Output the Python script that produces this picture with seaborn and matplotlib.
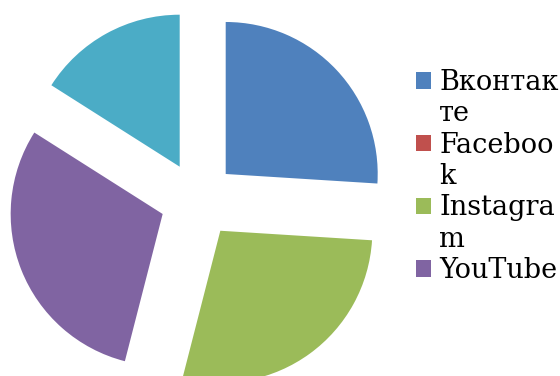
import matplotlib
matplotlib.use("Agg")
import matplotlib.pyplot as plt
from matplotlib.patches import Patch
import seaborn as sns

# ---- data ----
categories = ["Вконтакте", "Facebook", "Instagram", "YouTube", "Другое"]
values = [26, 0, 28, 30, 16]
legend_lines = [["Вконтак", "те"], ["Faceboo", "k"], ["Instagra", "m"], ["YouTube"]]
colors = ["#4F81BD", "#C0504D", "#9BBB59", "#8064A2", "#4BACC6"]

sns.set_theme(style="white")
plt.rcParams["font.family"] = ["DejaVu Serif"]
plt.rcParams["text.color"] = "black"

W, H = 560, 376
fig = plt.figure(figsize=(W / 100, H / 100), dpi=100)
ax = fig.add_axes([0, 0, 1, 1])

R = 152.0           # pixel radius
cx, cy = 198.0, 200.0  # pixel center (from top)
ax.pie(values, colors=sns.color_palette(colors), startangle=90, counterclock=False,
       explode=[0.25] * len(values), radius=1.0,
       wedgeprops=dict(linewidth=0, edgecolor="none"))
ax.set_xlim(-cx / R, (W - cx) / R)
ax.set_ylim(-(H - cy) / R, cy / R)
ax.set_aspect("auto")
ax.axis("off")

handles, labels = [], []
for i, lines in enumerate(legend_lines):
    for j, ln in enumerate(lines):
        if j == 0:
            handles.append(Patch(facecolor=colors[i], edgecolor="none"))
        else:
            handles.append(Patch(facecolor="none", edgecolor="none"))
        labels.append(ln)

fs = 19.5
leg = fig.legend(handles, labels, loc="upper left",
                 bbox_to_anchor=(416 / W, 1 - 69 / H), bbox_transform=fig.transFigure,
                 frameon=False, fontsize=fs, borderpad=0, borderaxespad=0,
                 handlelength=0.56, handleheight=0.56, handletextpad=0.3,
                 labelspacing=0.16, prop={"family": "DejaVu Serif", "size": fs})
for t in leg.get_texts():
    t.set_color("black")

fig.savefig("out.png", dpi=100)
